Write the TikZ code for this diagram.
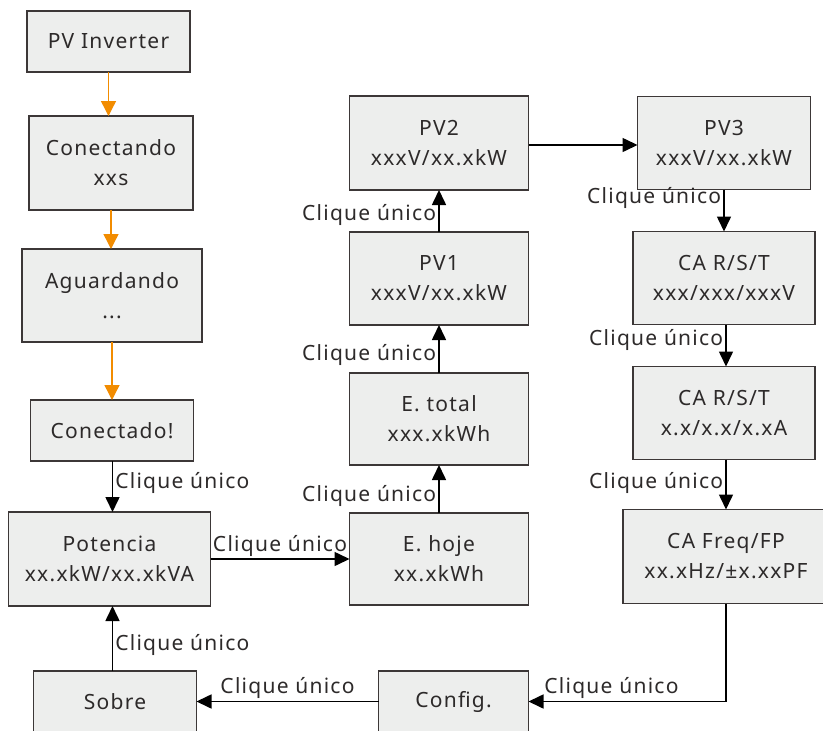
\documentclass[tikz,border=0pt]{standalone}
\usepackage{fontspec}
\setmainfont{Noto Sans}[LetterSpace=6]
\usepackage{xcolor}
\usepackage{tikz}
\usetikzlibrary{arrows.meta, positioning}

\definecolor{boxfill}{RGB}{237,238,237}
\definecolor{boxline}{RGB}{60,55,55}
\definecolor{txtgray}{RGB}{45,42,42}
\definecolor{flowor}{RGB}{242,140,0}

\begin{document}
\begin{tikzpicture}[
    x=1pt, y=-1pt,
    every node/.style={font=\fontsize{21}{30}\selectfont, text=txtgray},
    scrbox/.style={draw=boxline, fill=boxfill, line width=1.6pt, inner sep=0pt, outer sep=0pt, align=center, minimum width=179pt, minimum height=93pt},
    smallbox/.style={scrbox, minimum width=163pt, minimum height=61pt},
    orarr/.style={-{Triangle[length=15pt, width=15pt]}, line width=1.4pt, flowor},
    arr/.style={-{Triangle[length=15pt, width=14pt]}, line width=1.6pt, black},
    clk/.style={inner sep=2pt},
]
\useasboundingbox (0,0) rectangle (823,731);

% === Start-up column ===
\node[smallbox] (inv) at (108.5,41.5) {PV Inverter};
\node[scrbox, minimum width=164pt, minimum height=94pt, below=44pt of inv, xshift=2.5pt] (con) {Conectando\\xxs};
\node[scrbox, minimum width=180pt, below=39pt of con, xshift=1pt] (agu) {Aguardando\\...};
\node[smallbox, below=58pt of agu] (cnd) {Conectado!};

\draw[orarr] (inv.south) -- (inv.south |- con.north);
\draw[orarr] (con.south) -- (con.south |- agu.north);
\draw[orarr] (agu.south) -- (agu.south |- cnd.north);

% === Main loop ===
\node[scrbox, minimum width=202pt, minimum height=94pt, below=51pt of cnd, xshift=-2.5pt] (pot) {Potencia\\xx.xkW/xx.xkVA};
\node[scrbox, minimum height=92pt, right=139pt of pot] (hoje) {E. hoje\\xx.xkWh};
\node[scrbox, minimum height=92pt, above=48pt of hoje] (tot) {E. total\\xxx.xkWh};
\node[scrbox, above=48pt of tot] (pv1) {PV1\\xxxV/xx.xkW};
\node[scrbox, minimum height=94pt, above=42pt of pv1] (pv2) {PV2\\xxxV/xx.xkW};
\node[scrbox, minimum width=173pt, right=109pt of pv2] (pv3) {PV3\\xxxV/xx.xkW};
\node[scrbox, minimum width=182pt, below=42pt of pv3] (ca1) {CA R/S/T\\xxx/xxx/xxxV};
\node[scrbox, minimum width=182pt, below=42pt of ca1] (ca2) {CA R/S/T\\x.x/x.x/x.xA};
\node[scrbox, minimum width=206pt, minimum height=94pt, below=50pt of ca2, xshift=2pt] (caf) {CA Freq/FP\\xx.xHz/±x.xxPF};
\node[smallbox, minimum width=150pt, below=66pt of hoje, xshift=14.5pt] (cfg) {Config.};
\node[smallbox, below=65pt of pot, xshift=5.5pt] (sob) {Sobre};

\draw[arr] ([xshift=0.5pt]cnd.south) -- ([xshift=0.5pt]cnd.south |- pot.north) node[clk, midway, right, yshift=3.5pt] {Clique único};
\draw[arr] (pot) -- (hoje) node[clk, midway, above] {Clique único};
\draw[arr] (hoje) -- (tot) node[clk, midway, left, yshift=-6.5pt] {Clique único};
\draw[arr] (tot) -- (pv1) node[clk, midway, left, yshift=-5.5pt] {Clique único};
\draw[arr] (pv1) -- (pv2) node[clk, midway, left, yshift=-4pt] {Clique único};
\draw[arr] (pv2.east |- 0,145) -- (pv3.west |- 0,145);
\draw[arr] (pv3.south) -- (pv3.south |- ca1.north) node[clk, midway, left, yshift=13pt] {Clique único};
\draw[arr] ([xshift=2pt]ca1.south) -- ([xshift=2pt]ca1.south |- ca2.north) node[clk, midway, left, yshift=6pt] {Clique único};
\draw[arr] ([xshift=2pt]ca2.south) -- ([xshift=2pt]ca2.south |- caf.north) node[clk, midway, left, yshift=2pt] {Clique único};
\draw[arr] (caf.south) |- (cfg.east) node[clk, pos=0.79, above] {Clique único};
\draw[arr] (cfg) -- (sob) node[clk, midway, above] {Clique único};
\draw[arr] ([xshift=-2.5pt]sob.north) -- ([xshift=-2.5pt]sob.north |- pot.south) node[clk, midway, right, yshift=-6.5pt] {Clique único};

\end{tikzpicture}
\end{document}
